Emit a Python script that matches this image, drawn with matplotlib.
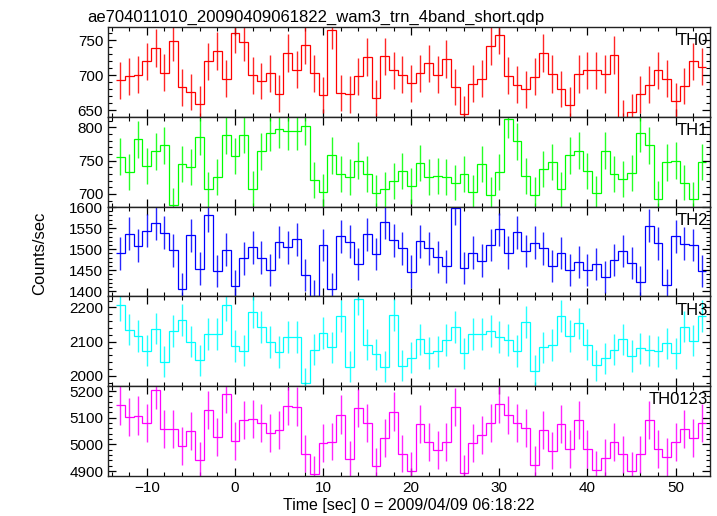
import matplotlib
matplotlib.use("Agg")

import numpy as np
import matplotlib.pyplot as plt
from matplotlib.ticker import MultipleLocator

plt.rcParams["font.family"] = ["Liberation Sans", "DejaVu Sans"]

# 1 s bins, centres in seconds from 2009/04/09 06:18:22
time = np.arange(-13, 54)

th0 = [693, 698.5, 701, 720, 739, 704, 748.5, 683, 676, 659, 720, 735, 695, 760, 748, 700,
       692, 703, 674, 731.5, 708, 744, 703, 672, 765, 675, 673, 699, 726, 667.5, 727, 707,
       701, 689, 703, 717, 701, 723, 683.5, 645, 688, 695, 742, 758, 699.5, 687, 680, 698,
       731.5, 702, 680.5, 658, 702, 707, 707, 702, 729, 640, 647.5, 673, 687, 707, 695, 664,
       685, 720, 712.6]
th1 = [756, 733, 782, 742, 764, 773, 683, 745, 741, 786, 707, 726, 788, 757, 789, 708,
       764, 792, 797, 795, 795, 802, 721, 703, 758, 730, 726, 750, 730, 702, 707, 719,
       734, 712, 747, 725, 727, 726, 717, 730, 702.5, 745, 699, 733, 812, 779, 727, 698.5,
       738, 748.5, 707, 758, 765, 735, 701, 765, 730, 722, 732, 791, 773, 693, 747.5, 750,
       717, 692.4, 748.5]
th2 = [1490, 1537, 1508, 1544, 1561, 1539, 1497, 1406, 1533, 1454, 1580, 1448, 1499, 1412, 1478, 1504,
       1480, 1451, 1517, 1504, 1523, 1439, 1390, 1510, 1406, 1531, 1518, 1464, 1535, 1489, 1564, 1521,
       1502, 1447, 1519, 1502, 1482, 1459, 1597, 1455, 1492, 1473, 1510, 1547, 1492, 1540, 1496, 1515,
       1502, 1461, 1491, 1451, 1470, 1451, 1465, 1433, 1475, 1496, 1467, 1423, 1556, 1514, 1416, 1531,
       1513, 1510, 1448]
th3 = [2207, 2135, 2117, 2074, 2138, 2042, 2131, 2163, 2100, 2045, 2122, 2122, 2208, 2087, 2074, 2186,
       2143, 2099, 2070, 2113, 2114, 1980, 2077, 2126, 2083, 2176, 2027, 2224, 2091, 2063, 2027, 2177,
       2030, 2053, 2107, 2067, 2072, 2105, 2143, 2066, 2123, 2123, 2131, 2114, 2105, 2073, 2157, 2015,
       2083, 2090, 2176, 2117, 2153, 2091, 2031, 2052, 2077, 2107, 2058, 2080, 2075, 2072, 2095, 2066,
       2144, 2103, 2175]
th0123 = [5146, 5104, 5108, 5080, 5205, 5058, 5058, 4995, 5050, 4940, 5128, 5028, 5190, 5014, 5090, 5095,
          5080, 5043, 5054, 5145, 5142, 4966, 4888, 5007, 5011, 5112, 4944, 5137, 5079, 4918, 5025, 5123,
          4966, 4902, 5076, 5009, 4979, 5010, 5141, 4892, 5005, 5037, 5080, 5153, 5109, 5080, 5061, 4925,
          5054, 4977, 5075, 4982, 5091, 4984, 4904, 4951, 5009, 4963, 4902, 4963, 5092, 4984, 4952, 5009,
          5058, 5025, 5079]

names = ["TH0", "TH1", "TH2", "TH3", "TH0123"]
series = [th0, th1, th2, th3, th0123]
colors = ["#ff0000", "#00ff00", "#0000ff", "#00ffff", "#ff00ff"]
ylims = [(641, 769), (681, 816), (1388, 1601), (1970, 2232), (4882, 5218)]
ymajor = [50, 50, 50, 100, 100]
yminor = [10, 10, 10, 20, 20]

fig, axes = plt.subplots(5, 1, sharex=True, figsize=(7.17, 5.16), dpi=100)
fig.subplots_adjust(left=108/717, right=710/717, top=1-27/516, bottom=1-476/516, hspace=0)

edges = np.append(time - 0.5, time[-1] + 0.5)
for ax, name, vals, c, yl, ma, mi in zip(axes, names, series, colors, ylims, ymajor, yminor):
    vals = np.asarray(vals, dtype=float)
    err = np.sqrt(vals)  # Poisson errors for 1 s bins
    ax.stairs(vals, edges, baseline=None, color=c, lw=0.9)
    ax.vlines(time, vals - err, vals + err, color=c, lw=1.0, alpha=0.85)
    ax.set_ylim(*yl)
    ax.yaxis.set_major_locator(MultipleLocator(ma))
    ax.yaxis.set_minor_locator(MultipleLocator(mi))
    ax.xaxis.set_major_locator(MultipleLocator(10))
    ax.xaxis.set_minor_locator(MultipleLocator(2))
    ax.tick_params(which="both", direction="in", top=True, right=True, labelsize=11)
    ax.tick_params(which="major", length=6, width=0.9)
    ax.tick_params(which="minor", length=3, width=0.8)
    for s in ax.spines.values():
        s.set_linewidth(1.0)
        s.set_color("#222222")
    ax.text(0.997, 0.93, name, transform=ax.transAxes, ha="right", va="top", fontsize=12)

axes[0].set_xlim(-14.4, 53.9)
axes[0].set_title("ae704011010_20090409061822_wam3_trn_4band_short.qdp",
                  loc="left", fontsize=12, pad=4, x=-0.035)
axes[-1].set_xlabel("Time [sec] 0 = 2009/04/09 06:18:22", fontsize=11.5, labelpad=2)
fig.text(0.055, 0.51, "Counts/sec", rotation=90, ha="center", va="center", fontsize=12)

plt.savefig("out.png", dpi=100)
plt.close()
